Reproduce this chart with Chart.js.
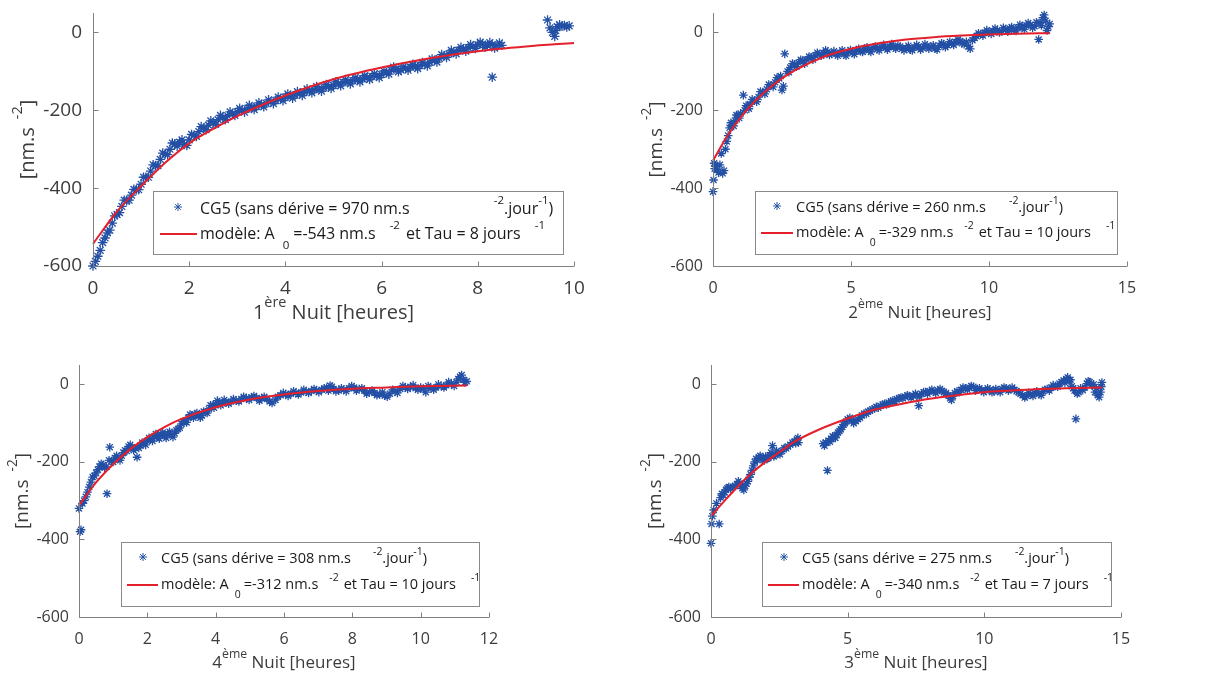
<!DOCTYPE html>
<html>
<head>
<meta charset="utf-8">
<script src="https://cdn.jsdelivr.net/npm/chart.js@4.4.0/dist/chart.umd.min.js"></script>
<style>
  html, body { margin: 0; padding: 0; background: #fff; }
  .panel { position: absolute; }
</style>
</head>
<body>
<div class="panel" style="left:0;top:0;width:614px;height:337px"><canvas id="c1"></canvas></div>
<div class="panel" style="left:614px;top:0;width:614px;height:337px"><canvas id="c2"></canvas></div>
<div class="panel" style="left:0;top:337px;width:614px;height:338px"><canvas id="c3"></canvas></div>
<div class="panel" style="left:614px;top:337px;width:614px;height:338px"><canvas id="c4"></canvas></div>
<script>
// ---- 1ère nuit ----
const t1 = [0, 0.05, 0.1, 0.15, 0.2, 0.25, 0.3,
  0.4, 0.5, 0.6, 0.7, 0.8, 0.9, 1.0, 1.1, 1.2, 1.3, 1.4, 1.5, 1.6, 1.7, 1.8, 1.9, 2.0, 2.1, 2.2, 2.3, 2.4, 2.5,
  2.6, 2.7, 2.8, 2.9, 3.0, 3.1, 3.2, 3.3, 3.4, 3.5, 3.6, 3.7, 3.8, 3.9, 4.0, 4.1, 4.2, 4.3, 4.4, 4.5, 4.6, 4.7,
  4.8, 4.9, 5.0, 5.1, 5.2, 5.3, 5.4, 5.5, 5.6, 5.7, 5.8, 5.9, 6.0, 6.1, 6.2, 6.3, 6.4, 6.5, 6.6, 6.7, 6.8, 6.9,
  7.0, 7.1, 7.2, 7.3, 7.4, 7.5, 7.6, 7.7, 7.8, 7.9, 8.0, 8.1, 8.2, 8.3, 8.4, 8.5,
  8.3,
  9.45, 9.5, 9.55, 9.6, 9.62, 9.65, 9.7, 9.75, 9.8, 9.85, 9.9];
const v1 = [-600, -588, -575, -560, -540, -528, -515,
  -490, -468, -447, -432, -418, -404, -390, -372, -356, -342, -326, -312, -300, -286, -282, -288, -276, -264, -255, -246, -238, -232,
  -224, -218, -214, -209, -204, -200, -196, -193, -190, -186, -182, -178, -175, -170, -166, -164, -161, -157, -153, -150, -147, -146,
  -142, -139, -136, -132, -128, -127, -124, -121, -119, -116, -113, -111, -108, -103, -97, -93, -96, -92, -89, -87, -85, -81,
  -77, -72, -67, -60, -55, -50, -46, -43, -39, -36, -32, -30, -33, -31, -34, -33,
  -115,
  32, 12, 0, -10, 5, 15, 20, 16, 18, 14, 17];
// second row of points filling the band
const t1b = [0.35, 0.45, 0.55, 0.65, 0.75, 0.85, 0.95, 1.05, 1.15, 1.25, 1.35, 1.45, 1.55, 1.65, 1.75, 1.85, 1.95,
  2.05, 2.15, 2.25, 2.35, 2.45, 2.55, 2.65, 2.75, 2.85, 2.95, 3.05, 3.15, 3.25, 3.35, 3.45, 3.55, 3.65, 3.75, 3.85, 3.95,
  4.05, 4.15, 4.25, 4.35, 4.45, 4.55, 4.65, 4.75, 4.85, 4.95, 5.05, 5.15, 5.25, 5.35, 5.45, 5.55, 5.65, 5.75, 5.85, 5.95,
  6.05, 6.15, 6.25, 6.35, 6.45, 6.55, 6.65, 6.75, 6.85, 6.95, 7.05, 7.15, 7.25, 7.35, 7.45, 7.55, 7.65, 7.75, 7.85, 7.95,
  8.05, 8.15, 8.25, 8.35, 8.45];
const v1b = [-508, -471, -463, -431, -431, -403, -404, -372, -372, -340, -342, -310, -314, -284, -292, -276, -290,
  -262, -267, -242, -250, -227, -236, -213, -224, -204, -213, -195, -205, -187, -198, -181, -191, -173, -183, -166, -175,
  -158, -169, -152, -162, -145, -155, -139, -151, -134, -144, -127, -137, -121, -132, -116, -127, -111, -121, -106, -116,
  -99, -107, -89, -101, -88, -97, -82, -93, -77, -86, -68, -76, -57, -64, -46, -55, -38, -48, -31, -41,
  -25, -38, -26, -40, -27];
const m1t = [0, 0.5, 1, 1.5, 2, 2.5, 3, 4, 5, 6, 7, 8, 9, 10];
const m1v = [-543, -460, -395, -335, -285, -248, -215, -162, -120, -90, -66, -48, -36, -27];

// ---- 2ème nuit ----
const t2 = [0, 0.02, 0.04, 0.06, 0.1, 0.15, 0.2, 0.25, 0.3, 0.35, 0.4, 0.45, 0.5, 0.55, 0.6,
  0.7, 0.8, 0.9, 1.0, 1.1, 1.15, 1.25, 1.35, 1.5, 1.65, 1.8, 1.95, 2.1, 2.25, 2.4, 2.5, 2.55, 2.6, 2.7, 2.8,
  2.95, 3.1, 3.25, 3.4, 3.55, 3.7, 3.85, 4.0, 4.15, 4.3, 4.45, 4.6, 4.75, 4.9, 5.05, 5.2, 5.35, 5.5, 5.65, 5.8,
  5.95, 6.1, 6.25, 6.4, 6.55, 6.7, 6.85, 7.0, 7.15, 7.3, 7.45, 7.6, 7.75, 7.9, 8.05, 8.2, 8.35, 8.5, 8.65, 8.8,
  8.95, 9.1, 9.25, 9.4, 9.55,
  9.7, 9.85, 10.0, 10.15, 10.3, 10.45, 10.6, 10.75, 10.9, 11.05, 11.2, 11.35, 11.5, 11.65,
  11.8, 11.85, 11.95, 12.05, 12.15, 12.2];
const v2 = [-409, -379, -336, -350, -344, -352, -360, -340, -311, -362, -355, -300, -280, -265, -245,
  -238, -226, -214, -208, -161, -200, -190, -184, -175, -166, -153, -146, -136, -128, -118, -148, -138, -55, -100, -90,
  -82, -78, -72, -70, -64, -59, -56, -53, -50, -55, -54, -52, -56, -50, -52, -47, -48, -44, -46, -40,
  -43, -38, -40, -36, -38, -34, -42, -40, -44, -38, -36, -40, -35, -37, -41, -34, -30, -33, -28, -25,
  -22, -30, -36, -20, -10,
  -4, 0, 2, 4, 6, 3, 8, 10, 6, 12, 15, 18, 20, 16,
  -18, 25, 38, 30, 15, 22];
const t2b = [0.65, 0.75, 0.85, 0.95, 1.2, 1.3, 1.42, 1.58, 1.72, 1.88, 2.02, 2.18, 2.32, 2.45, 2.75, 2.88,
  3.02, 3.18, 3.32, 3.48, 3.62, 3.78, 3.92, 4.08, 4.22, 4.38, 4.52, 4.68, 4.82, 4.98, 5.12, 5.28, 5.42, 5.58, 5.72, 5.88,
  6.02, 6.18, 6.32, 6.48, 6.62, 6.78, 6.92, 7.08, 7.22, 7.38, 7.52, 7.68, 7.82, 7.98, 8.12, 8.28, 8.42, 8.58, 8.72, 8.88,
  9.02, 9.18, 9.32, 9.48, 9.62, 9.78, 9.92, 10.08, 10.22, 10.38, 10.52, 10.68, 10.82, 10.98, 11.12, 11.28, 11.42, 11.58,
  11.72, 11.9, 12.0, 12.1];
const v2b = [-232, -240, -212, -220, -188, -196, -172, -178, -152, -158, -134, -140, -116, -112, -102, -80,
  -88, -70, -80, -62, -70, -52, -60, -46, -58, -48, -60, -46, -60, -45, -56, -42, -50, -38, -50, -36,
  -46, -32, -44, -30, -42, -36, -46, -34, -46, -32, -44, -30, -42, -33, -44, -28, -38, -24, -32, -18,
  -28, -24, -42, -14, -2, -8, 6, -4, 10, 0, 12, 2, 14, 4, 20, 8, 24, 12,
  26, 18, 45, 5];
const m2t = [0, 0.5, 1, 1.5, 2, 2.5, 3, 4, 5, 6, 7, 8, 9, 10, 11, 12.2];
const m2v = [-329, -268, -218, -178, -145, -118, -96, -63, -42, -28, -18, -12, -8, -5, -3, -2];

// ---- 4ème nuit ----
const t3 = [0, 0.03, 0.06, 0.1, 0.15, 0.2, 0.25, 0.3, 0.35, 0.4, 0.45, 0.5, 0.55, 0.6,
  0.7, 0.8, 0.82, 0.9, 0.95, 1.05, 1.15, 1.25, 1.35, 1.45, 1.55, 1.65, 1.7,
  1.8, 1.9, 2.0, 2.1, 2.2, 2.3, 2.4, 2.5, 2.6, 2.7, 2.8, 2.9, 3.0, 3.1, 3.2, 3.3, 3.4, 3.5, 3.6, 3.7, 3.8, 3.9,
  4.0, 4.1, 4.2, 4.3, 4.45, 4.6, 4.75, 4.9, 5.05, 5.2, 5.35, 5.5, 5.65, 5.75,
  5.9, 6.05, 6.2, 6.35, 6.5, 6.65, 6.8, 6.95, 7.1, 7.25, 7.35,
  7.45, 7.6, 7.75, 7.9, 8.05, 8.2, 8.35, 8.5, 8.65, 8.8, 8.95, 9.1, 9.25, 9.4, 9.55, 9.7, 9.85, 10.0,
  10.15, 10.3, 10.45, 10.6, 10.75, 10.9, 11.05, 11.15, 11.2, 11.25, 11.3, 11.35];
const v3 = [-320, -380, -375, -307, -300, -290, -278, -265, -252, -239, -236, -228, -220, -212,
  -208, -213, -282, -162, -198, -190, -192, -184, -170, -160, -162, -165, -188,
  -158, -152, -146, -140, -136, -133, -130, -132, -128, -130, -126, -115, -102, -95, -86, -80, -78, -81, -80, -72, -64, -56,
  -50, -47, -49, -46, -44, -42, -38, -35, -33, -35, -36, -38, -48, -40,
  -28, -25, -24, -22, -21, -19, -17, -16, -14, -8, -3,
  -12, -16, -14, -10, -8, -12, -16, -20, -22, -26, -29, -24, -18, -12, -8, -6, -10, -8,
  -20, -10, -8, -4, -2, 2, 6, 20, 24, 12, 5, 8];
const t3b = [0.65, 0.75, 0.88, 1.0, 1.1, 1.2, 1.3, 1.4, 1.5, 1.6, 1.75, 1.85, 1.95, 2.05, 2.15, 2.25, 2.35, 2.45,
  2.55, 2.65, 2.75, 2.85, 2.95, 3.05, 3.15, 3.25, 3.35, 3.45, 3.55, 3.65, 3.75, 3.85, 3.95, 4.05, 4.15, 4.25,
  4.38, 4.52, 4.68, 4.82, 4.98, 5.12, 5.28, 5.42, 5.58, 5.82, 5.98, 6.12, 6.28, 6.42, 6.58, 6.72, 6.88, 7.02,
  7.18, 7.3, 7.4, 7.52, 7.68, 7.82, 7.98, 8.12, 8.28, 8.42, 8.58, 8.72, 8.88, 9.02, 9.18, 9.32, 9.48, 9.62,
  9.78, 9.92, 10.08, 10.22, 10.38, 10.52, 10.68, 10.82, 10.98, 11.1];
const v3b = [-205, -215, -196, -200, -184, -196, -176, -172, -156, -170, -164, -150, -156, -138, -146, -128, -140, -124,
  -138, -122, -136, -118, -112, -96, -98, -78, -86, -74, -86, -70, -74, -54, -60, -42, -54, -40,
  -50, -38, -44, -32, -40, -30, -42, -32, -44, -32, -22, -30, -18, -26, -14, -22, -12, -20,
  -10, -16, -6, -18, -10, -18, -4, -16, -10, -24, -16, -28, -20, -32, -14, -22, -4, -12,
  -2, -14, -12, -4, -14, 0, -8, 6, -4, 14];
const m3t = [0, 0.5, 1, 1.5, 2, 2.5, 3, 4, 5, 6, 7, 8, 9, 10, 11.35];
const m3v = [-312, -253, -206, -167, -136, -110, -89, -59, -39, -26, -17, -11, -8, -5, -3];

// ---- 3ème nuit ----
const t4 = [0, 0.02, 0.05, 0.1, 0.2, 0.3, 0.35, 0.45, 0.55, 0.65, 0.8, 0.95,
  1.05, 1.15, 1.25, 1.35, 1.45, 1.55, 1.65, 1.75, 1.85, 1.95, 2.05, 2.15, 2.25, 2.35, 2.45,
  2.6, 2.75, 2.9, 3.05, 3.15, 3.2,
  4.1, 4.2, 4.26, 4.3, 4.4, 4.5, 4.6, 4.7, 4.8, 4.9, 5.0,
  5.15, 5.3, 5.45, 5.6, 5.75, 5.9, 6.05, 6.2, 6.35, 6.5, 6.65, 6.8, 6.95, 7.1, 7.25, 7.4, 7.55, 7.6,
  7.7, 7.85, 8.0, 8.15, 8.3, 8.45, 8.6, 8.75, 8.85,
  9.0, 9.15, 9.3, 9.45, 9.6, 9.75, 9.9, 10.05, 10.2, 10.35, 10.5, 10.65, 10.8, 10.95, 11.1, 11.25, 11.4,
  11.55, 11.7, 11.85, 12.0, 12.15, 12.3, 12.45, 12.6, 12.75, 12.9,
  13.0, 13.1, 13.2, 13.3, 13.35, 13.45, 13.6, 13.75, 13.85, 14.0, 14.1, 14.2, 14.25, 14.3];
const v4 = [-410, -360, -340, -324, -307, -360, -292, -285, -272, -265, -264, -258,
  -255, -268, -262, -250, -232, -210, -192, -188, -190, -196, -192, -183, -158, -182, -178,
  -172, -165, -156, -148, -142, -150,
  -153, -150, -222, -145, -140, -136, -130, -120, -110, -100, -90,
  -94, -95, -86, -75, -70, -64, -58, -55, -50, -47, -42, -38, -34, -32, -30, -29, -28, -55,
  -24, -20, -17, -19, -15, -17, -22, -36, -30,
  -18, -14, -10, -8, -6, -12, -15, -16, -14, -18, -16, -12, -10, -12, -14, -20, -28,
  -30, -25, -22, -25, -18, -12, -8, -4, 2, 10,
  14, 8, -5, -16, -89, -20, -15, 2, 6, 0, -10, -33, -20, 5];
const t4b = [0.4, 0.5, 0.6, 0.72, 0.88, 1.0, 1.1, 1.2, 1.3, 1.4, 1.5, 1.6, 1.7, 1.8, 1.9, 2.0, 2.1, 2.2, 2.3, 2.4,
  2.52, 2.68, 2.82, 2.98, 3.1, 3.18, 4.15, 4.35, 4.45, 4.55, 4.65, 4.75, 4.85, 4.95, 5.08, 5.22, 5.38, 5.52, 5.68, 5.82,
  5.98, 6.12, 6.28, 6.42, 6.58, 6.72, 6.88, 7.02, 7.18, 7.32, 7.48, 7.62, 7.78, 7.92, 8.08, 8.22, 8.38, 8.52, 8.68, 8.8,
  8.92, 9.08, 9.22, 9.38, 9.52, 9.68, 9.82, 9.98, 10.12, 10.28, 10.42, 10.58, 10.72, 10.88, 11.02, 11.18, 11.32, 11.48,
  11.62, 11.78, 11.92, 12.08, 12.22, 12.38, 12.52, 12.68, 12.82, 12.95, 13.05, 13.15, 13.25, 13.4, 13.52, 13.68, 13.8,
  13.92, 14.05, 14.15, 14.28];
const v4b = [-282, -278, -268, -270, -262, -250, -262, -272, -256, -240, -222, -200, -196, -184, -194, -186, -190, -176, -186, -172,
  -180, -164, -160, -150, -152, -138, -158, -148, -134, -138, -124, -116, -104, -96, -86, -100, -90, -80, -76, -68,
  -62, -60, -52, -52, -44, -44, -36, -36, -28, -34, -24, -32, -20, -24, -14, -22, -12, -20, -28, -40,
  -22, -20, -8, -14, -4, -16, -10, -20, -10, -20, -12, -20, -8, -16, -8, -18, -24, -34,
  -22, -30, -18, -28, -14, -16, -2, -6, 6, 4, 18, 12, -10, -24, -10, -8, 8,
  -2, -20, -28, -6];
const m4t = [0, 0.5, 1, 1.5, 2, 2.5, 3, 4, 5, 6, 7, 8, 9, 10, 11, 12, 13, 14.3];
const m4v = [-340, -300, -262, -228, -200, -175, -150, -115, -88, -65, -50, -37, -28, -20, -16, -12, -10, -8];

const yTicks = [-600, -400, -200, 0];

const FONT = "'Open Sans', 'DejaVu Sans', sans-serif";
const AXIS = '#808080';
const TXT = '#3c3c3c';
const BLUE = '#2350a5';
const RED = '#e3202b';

function setFont(ctx, size) { ctx.font = size + 'px ' + FONT; }

// text with tex-like superscripts / subscripts
function drawRich(ctx, x, y, segs, size, align) {
  const parts = segs.map(s => {
    if (typeof s === 'string') return { t: s, sz: size, dy: 0 };
    if (s.g !== undefined) return { g: s.g };
    if (s.sup !== undefined) return { t: s.sup, sz: size * 0.72, dy: -size * 0.5 };
    return { t: s.sub, sz: size * 0.72, dy: size * 0.72 };
  });
  let w = 0;
  parts.forEach(p => {
    if (p.g !== undefined) p.w = p.g;
    else { setFont(ctx, p.sz); p.w = ctx.measureText(p.t).width; }
    w += p.w;
  });
  let cx = align === 'center' ? x - w / 2 : x;
  ctx.textBaseline = 'middle';
  ctx.textAlign = 'left';
  parts.forEach(p => {
    if (p.t !== undefined) { setFont(ctx, p.sz); ctx.fillText(p.t, cx, y + p.dy); }
    cx += p.w;
  });
}

function starAt(ctx, x, y, r) {
  Chart.helpers.drawPoint(ctx, { pointStyle: 'star', rotation: 0, radius: r, borderWidth: 1.2 }, x, y);
}

function deco(cfg) {
  return {
    id: 'deco',
    afterDraw(chart) {
      const ctx = chart.ctx;
      const ca = chart.chartArea;
      const xs = chart.scales.x, ys = chart.scales.y;
      ctx.save();
      // axes, ticks pointing inward
      ctx.strokeStyle = AXIS;
      ctx.lineWidth = 1;
      const L = Math.round(ca.left) + 0.5, B = Math.round(ca.bottom) + 0.5;
      ctx.beginPath();
      ctx.moveTo(L, ca.top); ctx.lineTo(L, B); ctx.lineTo(ca.right, B);
      xs.ticks.forEach(tk => {
        const px = Math.round(xs.getPixelForValue(tk.value)) + 0.5;
        ctx.moveTo(px, B); ctx.lineTo(px, B - 5);
      });
      ys.ticks.forEach(tk => {
        const py = Math.round(ys.getPixelForValue(tk.value)) + 0.5;
        ctx.moveTo(L, py); ctx.lineTo(L + 5, py);
      });
      ctx.stroke();

      // axis titles
      ctx.fillStyle = TXT;
      drawRich(ctx, (ca.left + ca.right) / 2, ca.bottom + cfg.xTitleDy, cfg.xTitle, cfg.titleSize, 'center');
      ctx.save();
      ctx.translate(ca.left + cfg.yTitleDx, (ca.top + ca.bottom) / 2);
      ctx.rotate(-Math.PI / 2);
      drawRich(ctx, 0, 0, ['[nm.s', { g: 8 }, { sup: '-2' }, ']'], cfg.yTitleSize, 'center');
      ctx.restore();

      // legend box
      const lg = cfg.legend;
      const bx = ca.left + lg.left, bxr = ca.right - lg.rightGap;
      const by = ca.bottom - lg.bottomGap - lg.h;
      ctx.fillStyle = '#fff';
      ctx.fillRect(bx, by, bxr - bx, lg.h);
      ctx.strokeStyle = '#8a8a8a';
      ctx.strokeRect(Math.round(bx) + 0.5, Math.round(by) + 0.5, Math.round(bxr - bx), lg.h);
      const r1 = by + lg.row1Dy, r2 = by + lg.row2Dy;
      ctx.strokeStyle = BLUE;
      starAt(ctx, bx + lg.starX, r1 - 2, 4);
      ctx.strokeStyle = RED;
      ctx.lineWidth = 2;
      ctx.beginPath();
      ctx.moveTo(bx + lg.lineX0, r2); ctx.lineTo(bx + lg.lineX1, r2);
      ctx.stroke();
      ctx.fillStyle = '#1a1a1a';
      drawRich(ctx, bx + lg.textX, r1, lg.row1, lg.size, 'left');
      drawRich(ctx, bx + lg.textX, r2, lg.row2, lg.size, 'left');
      ctx.restore();
    }
  };
}

function makePanel(id, ptsT, ptsV, modT, modV, cfg) {
  const pts = ptsT.map((x, i) => ({ x: x, y: ptsV[i] }));
  const mod = modT.map((x, i) => ({ x: x, y: modV[i] }));
  return new Chart(document.getElementById(id), {
    type: 'scatter',
    data: {
      datasets: [
        {
          label: 'CG5', data: pts, pointStyle: 'star', pointRadius: cfg.starR,
          borderColor: BLUE, backgroundColor: BLUE, borderWidth: 1.3, clip: false, order: 2
        },
        {
          label: 'modèle', data: mod, showLine: true, pointRadius: 0,
          borderColor: RED, borderWidth: 2, cubicInterpolationMode: 'monotone', clip: false, order: 1
        }
      ]
    },
    options: {
      responsive: true,
      maintainAspectRatio: false,
      animation: false,
      events: [],
      layout: { padding: { top: cfg.padTop, right: cfg.padRight, left: 0, bottom: 0 } },
      plugins: { legend: { display: false }, tooltip: { enabled: false } },
      scales: {
        x: {
          type: 'linear', min: 0, max: cfg.xMax,
          ticks: { stepSize: cfg.xStep, includeBounds: false, color: TXT, padding: cfg.xPad, maxRotation: 0,
                   font: { family: FONT, size: cfg.tick } },
          grid: { display: false, drawTicks: false },
          border: { display: false },
          afterFit: s => { s.height = cfg.xH; s.paddingLeft = 0; s.paddingRight = 0; }
        },
        y: {
          type: 'linear', min: -600, max: 50,
          afterBuildTicks: s => { s.ticks = yTicks.map(v => ({ value: v })); },
          ticks: { color: TXT, padding: cfg.yPad, font: { family: FONT, size: cfg.tick } },
          grid: { display: false, drawTicks: false },
          border: { display: false },
          afterFit: s => { s.width = cfg.yW; s.paddingTop = 0; s.paddingBottom = 0; }
        }
      }
    },
    plugins: [deco(cfg)]
  });
}

makePanel('c1', t1.concat(t1b), v1.concat(v1b), m1t, m1v, {
  yW: 93, padTop: 13, padRight: 40, xH: 71, xMax: 10, xStep: 2, tick: 19, xPad: 11, yPad: 11,
  titleSize: 20, yTitleSize: 20, xTitleDy: 47, yTitleDx: -65, starR: 4.8,
  xTitle: ['1', { sup: 'ère' }, ' Nuit [heures]'],
  legend: {
    left: 60, rightGap: 11, bottomGap: 12, h: 63, size: 16, textX: 47, lineX0: 7, lineX1: 44, starX: 25,
    row1Dy: 18, row2Dy: 43,
    row1: ['CG5 (sans dérive = 970 nm.s', { g: 84 }, { sup: '-2' }, '.jour', { sup: '-1' }, ')'],
    row2: ['modèle: A', { g: 8 }, { sub: '0' }, { g: 4 }, '=-543 nm.s', { g: 14 }, { sup: '-2' }, { g: 6 },
           'et Tau = 8 jours', { g: 14 }, { sup: '-1' }]
  }
});

makePanel('c2', t2.concat(t2b), v2.concat(v2b), m2t, m2v, {
  yW: 99, padTop: 13, padRight: 101, xH: 71, xMax: 15, xStep: 5, tick: 16, xPad: 13, yPad: 10,
  titleSize: 17, yTitleSize: 19, xTitleDy: 47, yTitleDx: -56, starR: 4.3,
  xTitle: ['2', { sup: 'ème' }, ' Nuit [heures]'],
  legend: {
    left: 42, rightGap: 10, bottomGap: 12, h: 63, size: 14.5, textX: 41, lineX0: 6, lineX1: 38, starX: 22,
    row1Dy: 17, row2Dy: 42,
    row1: ['CG5 (sans dérive = 260 nm.s', { g: 23 }, { sup: '-2' }, '.jour', { sup: '-1' }, ')'],
    row2: ['modèle: A', { g: 6 }, { sub: '0' }, { g: 3 }, '=-329 nm.s', { g: 11 }, { sup: '-2' }, { g: 5 },
           'et Tau = 10 jours', { g: 15 }, { sup: '-1' }]
  }
});

makePanel('c3', t3.concat(t3b), v3.concat(v3b), m3t, m3v, {
  yW: 79, padTop: 28, padRight: 125, xH: 58, xMax: 12, xStep: 2, tick: 16, xPad: 13, yPad: 10,
  titleSize: 17, yTitleSize: 19, xTitleDy: 46, yTitleDx: -56, starR: 4.3,
  xTitle: ['4', { sup: 'ème' }, ' Nuit [heures]'],
  legend: {
    left: 42, rightGap: 10, bottomGap: 11, h: 64, size: 14.5, textX: 40, lineX0: 6, lineX1: 37, starX: 22,
    row1Dy: 17, row2Dy: 43,
    row1: ['CG5 (sans dérive = 308 nm.s', { g: 22 }, { sup: '-2' }, '.jour', { sup: '-1' }, ')'],
    row2: ['modèle: A', { g: 6 }, { sub: '0' }, { g: 3 }, '=-312 nm.s', { g: 11 }, { sup: '-2' }, { g: 5 },
           'et Tau = 10 jours', { g: 15 }, { sup: '-1' }]
  }
});

makePanel('c4', t4.concat(t4b), v4.concat(v4b), m4t, m4v, {
  yW: 97, padTop: 28, padRight: 107, xH: 58, xMax: 15, xStep: 5, tick: 16, xPad: 13, yPad: 10,
  titleSize: 17, yTitleSize: 19, xTitleDy: 46, yTitleDx: -55, starR: 4.3,
  xTitle: ['3', { sup: 'ème' }, ' Nuit [heures]'],
  legend: {
    left: 51, rightGap: 10, bottomGap: 11, h: 64, size: 14.5, textX: 40, lineX0: 6, lineX1: 37, starX: 22,
    row1Dy: 17, row2Dy: 43,
    row1: ['CG5 (sans dérive = 275 nm.s', { g: 23 }, { sup: '-2' }, '.jour', { sup: '-1' }, ')'],
    row2: ['modèle: A', { g: 6 }, { sub: '0' }, { g: 3 }, '=-340 nm.s', { g: 11 }, { sup: '-2' }, { g: 5 },
           'et Tau = 7 jours', { g: 15 }, { sup: '-1' }]
  }
});
</script>
</body>
</html>
